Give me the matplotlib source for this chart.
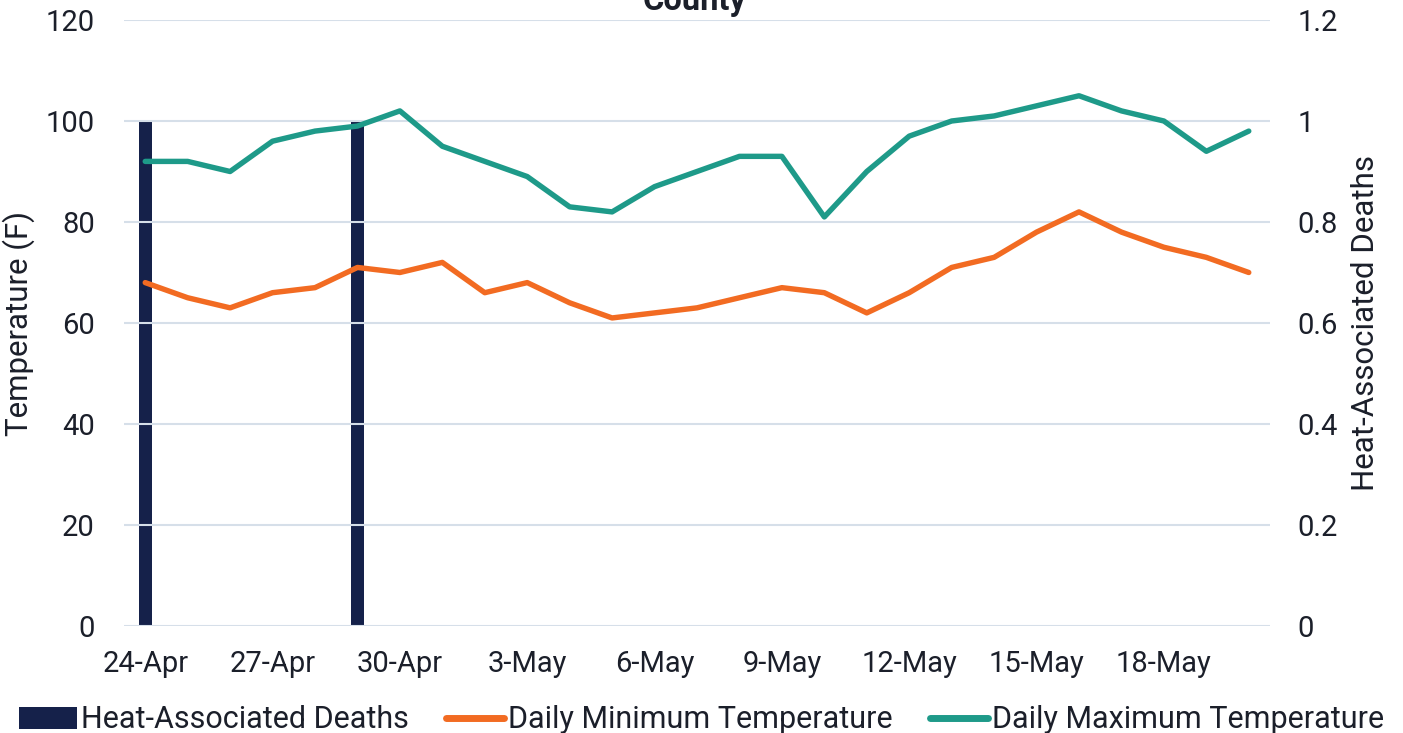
import matplotlib
matplotlib.use("Agg")
import matplotlib.pyplot as plt
from matplotlib.patches import Patch
from matplotlib.lines import Line2D
import numpy as np

dates = ["24-Apr", "25-Apr", "26-Apr", "27-Apr", "28-Apr", "29-Apr", "30-Apr",
         "1-May", "2-May", "3-May", "4-May", "5-May", "6-May", "7-May", "8-May",
         "9-May", "10-May", "11-May", "12-May", "13-May", "14-May", "15-May",
         "16-May", "17-May", "18-May", "19-May", "20-May"]
max_temp = [92, 92, 90, 96, 98, 99, 102, 95, 92, 89, 83, 82, 87, 90, 93, 93, 81,
            90, 97, 100, 101, 103, 105, 102, 100, 94, 98]
min_temp = [68, 65, 63, 66, 67, 71, 70, 72, 66, 68, 64, 61, 62, 63, 65, 67, 66,
            62, 66, 71, 73, 78, 82, 78, 75, 73, 70]
deaths = [1, 0, 0, 0, 0, 1, 0, 0, 0, 0, 0, 0, 0, 0, 0, 0, 0, 0, 0, 0, 0, 0, 0,
          0, 0, 0, 0]

NAVY = "#15214a"
ORANGE = "#f26b22"
TEAL = "#1e9a89"
GRID = "#d6dfe9"
TXT = "#1b1f2a"

plt.rcParams['font.family'] = ['Roboto', 'DejaVu Sans']

W, H = 1403, 733
fig = plt.figure(figsize=(W / 100, H / 100), dpi=100)
ax = fig.add_axes([124 / W, (H - 626) / H, (1270 - 124) / W, (626 - 20) / H])
ax2 = ax.twinx()

x = np.arange(len(dates))
ax2.bar(x, deaths, width=0.31, color=NAVY, zorder=1)
ax.plot(x, min_temp, color=ORANGE, lw=3.9, solid_capstyle='round', solid_joinstyle='round', zorder=3)
ax.plot(x, max_temp, color=TEAL, lw=3.9, solid_capstyle='round', solid_joinstyle='round', zorder=3)

ax.set_zorder(ax2.get_zorder() + 1)
ax.patch.set_visible(False)

ax.set_xlim(-0.5, len(dates) - 0.5)
ax.set_ylim(0, 120)
ax2.set_ylim(0, 1.2)
ax.set_yticks(np.arange(0, 121, 20))
ax2.set_yticks([0, 0.2, 0.4, 0.6, 0.8, 1.0, 1.2])
ax2.set_yticklabels(["0", "0.2", "0.4", "0.6", "0.8", "1", "1.2"])
ax.set_xticks(x[::3])
ax.set_xticklabels(dates[::3])

for a in (ax, ax2):
    for s in a.spines.values():
        s.set_visible(False)
ax.grid(axis='y', color=GRID, lw=1.5, zorder=0)
ax2.set_axisbelow(True)
ax.set_axisbelow(True)
ax.tick_params(axis='both', length=0, labelsize=21, colors=TXT)
ax.tick_params(axis='y', pad=21)
ax.tick_params(axis='x', pad=17.5)
ax2.tick_params(axis='y', length=0, labelsize=21, colors=TXT, pad=19.5)

ax.set_ylabel("Temperature (F)", fontsize=22.5, color=TXT, labelpad=8)
ax2.set_ylabel("Heat-Associated Deaths", fontsize=22.5, color=TXT, labelpad=10)

fig.text(0.495, 1 - 10 / H, "County", ha='center', va='baseline', fontsize=23.5,
         fontweight='bold', color=TXT)

handles = [Patch(facecolor=NAVY, edgecolor='none'),
           Line2D([], [], color=ORANGE, lw=5, solid_capstyle='round'),
           Line2D([], [], color=TEAL, lw=5, solid_capstyle='round')]
labels = ["Heat-Associated Deaths", "Daily Minimum Temperature", "Daily Maximum Temperature"]
fig.legend(handles, labels, loc='center', bbox_to_anchor=(0.5, 1 - 720 / H), ncol=3,
           frameon=False, fontsize=22, handlelength=1.9, handletextpad=0.15,
           columnspacing=1.2, labelcolor=TXT, borderaxespad=0, borderpad=0)

fig.savefig("out.png", dpi=100)
